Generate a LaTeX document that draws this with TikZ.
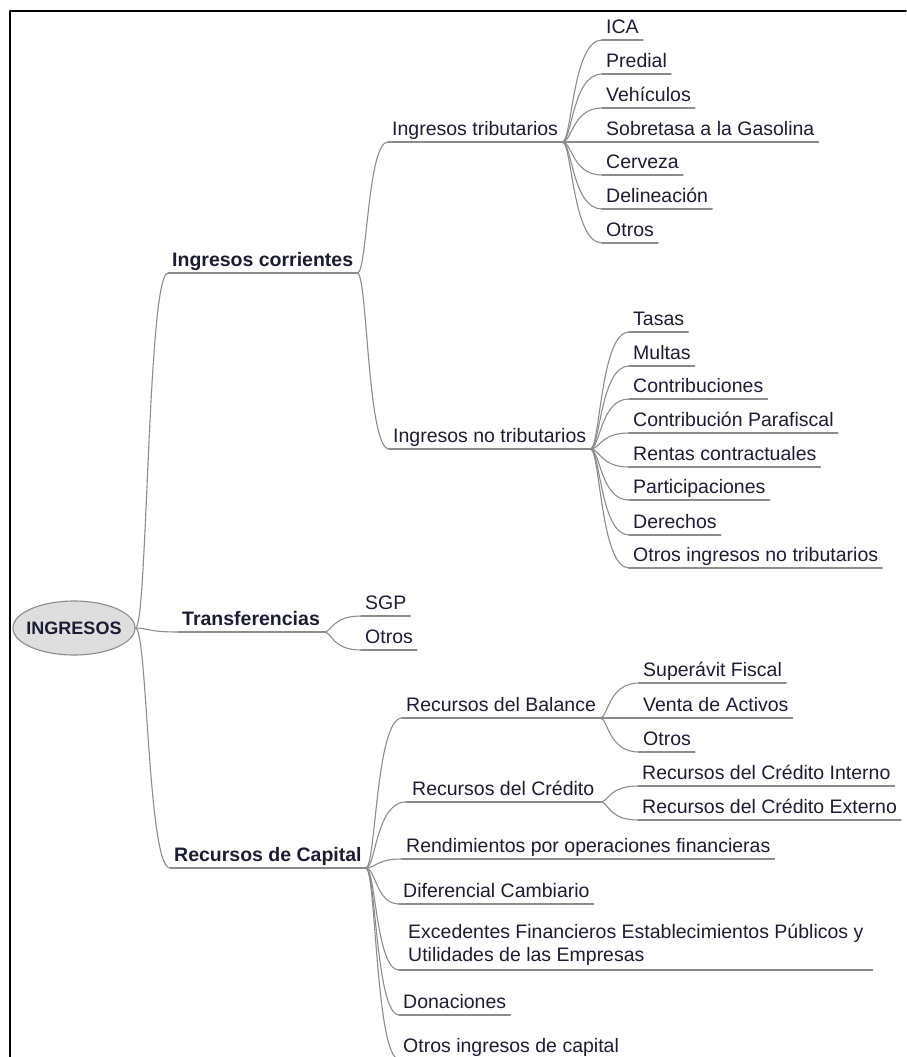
\documentclass[tikz,border=0pt]{standalone}
\usepackage{fontspec}
\setmainfont{Liberation Sans}
\usetikzlibrary{shapes.geometric,calc}
\definecolor{inkc}{RGB}{28,28,52}
\definecolor{linkc}{RGB}{140,140,140}
\definecolor{rootfill}{RGB}{222,222,222}
\tikzset{
  link/.style={draw=linkc, line width=1.1pt},
  twig/.style={to path={.. controls ($(\tikztostart)+(#1,0)$) and ($(\tikztostart |- \tikztotarget)+(#1,0)$) .. (\tikztotarget)}},
  twig/.default=10,
  item/.style={anchor=south west, inner xsep=4pt, inner ysep=2.5pt, text depth=4.2pt, text=inkc, font=\fontsize{19.5}{23}\selectfont},
  head/.style={item, font=\fontsize{19.5}{23}\selectfont\bfseries}
}
\begin{document}
\begin{tikzpicture}[x=1pt, y=-1pt, line join=round, line cap=round]
  \useasboundingbox (0,0) rectangle (906,1057);
  % Frame
  \draw[line width=1.6pt] (906,11) -- (10,11) -- (10,1057);

  % Root
  \node[ellipse, draw=linkc, fill=rootfill, line width=1.1pt, minimum width=122, minimum height=54] (root) at (74,628) {};
  \node[text=inkc, font=\fontsize{18}{20}\selectfont\bfseries] (rootlabel) at (root) {INGRESOS};

  % First level
  \node[head] (corr) at (168,273) {Ingresos corrientes};
  \node[head] (transf) at (178,632) {Transferencias};
  \node[head] (capital) at (170,868) {Recursos de Capital};
  \foreach \n in {corr,transf,capital}
    \draw[link] (root.east) to[twig=12] (\n.south west);

  % Ingresos corrientes
  \node[item] (trib) at (388,142) {Ingresos tributarios};
  \node[item] (notrib) at (389,449) {Ingresos no tributarios};
  \foreach \n in {trib,notrib}
    \draw[link] (corr.south east) to[twig] (\n.south west);

  \foreach \n/\y/\t in {ica/40/ICA, predial/74/Predial, vehic/108/Vehículos,
      sobret/142/Sobretasa a la Gasolina, cerveza/175/Cerveza,
      delin/209/Delineación, otrostrib/243/Otros}
  {
    \node[item] (\n) at (602,\y) {\t};
    \draw[link] (trib.south east) to[twig] (\n.south west);
  }

  \foreach \n/\y/\t in {tasas/332/Tasas, multas/366/Multas, contrib/399/Contribuciones,
      parafis/433/Contribución Parafiscal, rentas/467/Rentas contractuales,
      partic/500/Participaciones, derech/535/Derechos,
      otrosnotrib/568/Otros ingresos no tributarios}
  {
    \node[item] (\n) at (629,\y) {\t};
    \draw[link] (notrib.south east) to[twig] (\n.south west);
  }

  % Transferencias
  \foreach \n/\y/\t in {sgp/616/SGP, otrostransf/650/Otros}
  {
    \node[item] (\n) at (361,\y) {\t};
    \draw[link] (transf.south east) to[twig=8] (\n.south west);
  }

  % Recursos de Capital
  \node[item] (bal) at (402,718) {Recursos del Balance};
  \node[item, inner xsep=6pt] (cred) at (406,802) {Recursos del Crédito};
  \node[item] (rend) at (402,859) {Rendimientos por operaciones financieras};
  \node[item] (dif) at (399,904) {Diferencial Cambiario};
  \node[item, align=left, inner xsep=9pt, inner ysep=4.5pt] (exc) at (399,970)
    {Excedentes Financieros Establecimientos Públicos y\\Utilidades de las Empresas};
  \node[item] (don) at (399,1015) {Donaciones};
  \node[item] (otroscap) at (399,1059) {Otros ingresos de capital};
  \foreach \n in {bal,cred,rend,dif,exc,don,otroscap}
    \draw[link] (capital.south east) to[twig] (\n.south west);

  \foreach \n/\y/\t in {superav/683/Superávit Fiscal, venta/718/Venta de Activos,
      otrosbal/752/Otros}
  {
    \node[item] (\n) at (639,\y) {\t};
    \draw[link] (bal.south east) to[twig=8] (\n.south west);
  }

  \foreach \n/\y/\t in {interno/786/Recursos del Crédito Interno,
      externo/820/Recursos del Crédito Externo}
  {
    \node[item] (\n) at (638,\y) {\t};
    \draw[link] (cred.south east) to[twig=8] (\n.south west);
  }

  % Underlines
  \foreach \n in {corr,transf,capital,trib,notrib,ica,predial,vehic,sobret,cerveza,
      delin,otrostrib,tasas,multas,contrib,parafis,rentas,partic,derech,otrosnotrib,
      sgp,otrostransf,bal,cred,rend,dif,exc,don,otroscap,superav,venta,otrosbal,
      interno,externo}
    \draw[link] (\n.south west) -- (\n.south east);
\end{tikzpicture}
\end{document}
